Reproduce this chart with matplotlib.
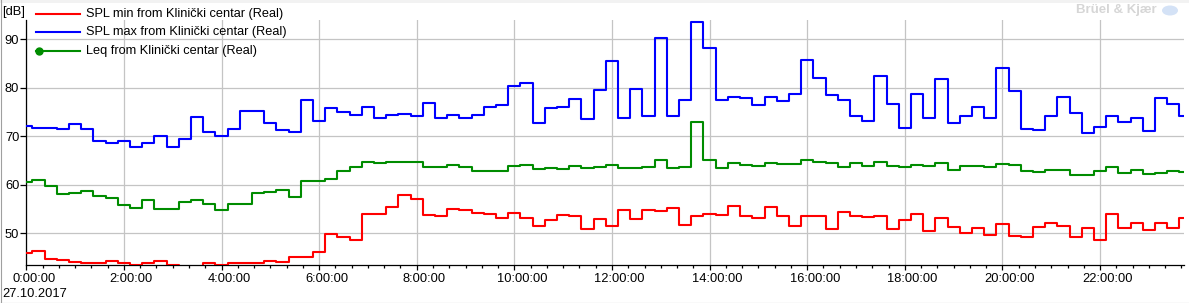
import matplotlib
matplotlib.use("Agg")
import matplotlib.pyplot as plt
import matplotlib.transforms as mtransforms
from matplotlib.lines import Line2D
from matplotlib.patches import Rectangle, Ellipse
from matplotlib.ticker import MultipleLocator, FuncFormatter, FixedLocator
import numpy as np

W, H = 1189, 303
plt.rcParams["font.family"] = ["Liberation Sans", "DejaVu Sans"]

# --- data: 15-minute values, 27.10.2017 ---
hours = np.arange(96) * 0.25

spl_min = [
    45.9, 46.3, 44.6, 44.5, 44.1, 43.8, 43.8, 44.2, 43.8, 43.5, 43.8, 44.2,
    43.5, 43.0, 43.0, 43.8, 43.5, 43.8, 43.8, 43.8, 44.3, 44.0, 45.0, 45.0,
    46.1, 49.9, 49.2, 48.6, 53.9, 53.9, 55.4, 57.9, 57.1, 53.8, 53.5, 55.0,
    54.8, 54.2, 54.0, 53.1, 54.2, 53.1, 51.5, 52.7, 53.8, 53.5, 50.8, 52.9,
    51.5, 54.8, 52.9, 54.8, 54.6, 55.2, 51.7, 53.5, 54.0, 53.8, 55.6, 53.5,
    53.1, 55.4, 53.5, 51.5, 53.5, 53.5, 50.8, 54.4, 53.5, 53.3, 53.5, 50.8,
    52.7, 54.0, 50.4, 53.1, 51.3, 50.0, 51.0, 49.6, 51.9, 49.4, 49.2, 51.3,
    52.1, 51.5, 49.2, 51.0, 48.6, 54.0, 51.0, 52.1, 50.6, 52.1, 51.0, 53.1,
]

spl_max = [
    72.2, 71.8, 71.8, 71.5, 72.6, 71.5, 69.1, 68.7, 69.1, 67.8, 68.7, 70.0,
    67.8, 69.5, 74.0, 70.8, 70.1, 71.5, 75.3, 75.3, 72.8, 71.3, 70.9, 77.5,
    73.2, 75.9, 75.1, 74.5, 76.1, 73.8, 74.5, 74.7, 74.2, 76.9, 73.8, 74.5,
    73.8, 74.5, 76.1, 76.5, 80.4, 81.1, 72.8, 75.9, 76.1, 77.7, 73.5, 79.5,
    85.6, 73.7, 79.8, 74.1, 90.2, 74.1, 77.5, 93.5, 88.3, 77.4, 78.2, 77.9,
    76.5, 78.2, 77.3, 78.8, 85.8, 82.1, 78.6, 77.5, 74.1, 73.2, 82.5, 76.7,
    71.8, 78.8, 73.8, 81.9, 72.8, 74.1, 76.1, 73.8, 84.0, 79.4, 71.6, 71.4,
    74.2, 78.2, 74.9, 70.6, 72.0, 74.2, 73.0, 73.8, 71.1, 77.9, 76.7, 74.2,
]

leq = [
    60.6, 60.9, 59.7, 58.1, 58.3, 58.7, 57.7, 57.2, 55.8, 55.3, 56.8, 55.0,
    55.0, 56.4, 56.8, 56.0, 54.8, 56.0, 56.0, 58.3, 58.5, 58.9, 57.4, 60.8,
    60.8, 61.2, 62.8, 63.7, 64.7, 64.5, 64.8, 64.7, 64.7, 63.6, 63.6, 64.1,
    63.6, 62.8, 62.8, 62.8, 63.9, 64.1, 63.2, 63.4, 63.2, 63.9, 63.4, 63.6,
    64.1, 63.4, 63.4, 63.6, 65.1, 63.4, 63.6, 73.0, 65.1, 63.4, 64.5, 64.1,
    63.9, 64.5, 64.3, 64.3, 65.1, 64.7, 64.5, 63.6, 64.5, 63.9, 64.7, 63.9,
    63.6, 64.1, 63.9, 64.5, 63.0, 63.9, 63.9, 63.6, 64.3, 64.1, 62.8, 62.6,
    63.0, 63.0, 62.0, 62.0, 62.8, 63.6, 62.4, 63.0, 62.2, 62.4, 62.8, 62.6,
]

series_labels = [
    "SPL min from Klinički centar (Real)",
    "SPL max from Klinički centar (Real)",
    "Leq from Klinički centar (Real)",
]
series_colors = ["#ff0000", "#0000ff", "#008c00"]
y_ticks = [50, 60, 70, 80, 90]
date_label = "27.10.2017"
unit_label = "[dB]"


def fx(px):
    return px / W


def fy(py):
    return 1 - py / H


fig = plt.figure(figsize=(W / 100, H / 100), dpi=100)
fig.patch.set_facecolor("white")

# frame bits of the window
fig.add_artist(Rectangle((0, fy(3)), 1, 3 / H, transform=fig.transFigure,
                         facecolor="#f2f2f2", edgecolor="none"))
fig.add_artist(Line2D([fx(0.5), fx(0.5)], [0, 1], transform=fig.transFigure,
                      color="#a0a0a0", lw=0.8))
fig.add_artist(Line2D([0, 1], [fy(302.5), fy(302.5)], transform=fig.transFigure,
                      color="#a0a0a0", lw=0.8))

ax = fig.add_axes([fx(26.3), fy(265), fx(1184 - 26.3), (265 - 20) / H])
ax.set_facecolor("white")

for vals, col in zip([spl_min, spl_max, leq], series_colors):
    ax.step(hours, vals, where="mid", color=col, lw=1.5, zorder=3)

ax.set_xlim(0, 23.72)
ax.set_ylim(43.45, 94.0)

ax.xaxis.set_major_locator(MultipleLocator(2))
ax.xaxis.set_minor_locator(MultipleLocator(1 / 3))
ax.xaxis.set_major_formatter(FuncFormatter(lambda v, p: f"{int(round(v))}:00:00"))
ax.yaxis.set_major_locator(FixedLocator(y_ticks))

ax.grid(True, which="major", color="#c4c4c4", lw=0.9)
ax.set_axisbelow(True)

for s in ["top", "right"]:
    ax.spines[s].set_visible(False)
for s in ["left", "bottom"]:
    ax.spines[s].set_linewidth(0.9)

ax.tick_params(axis="x", which="major", length=3.4, width=0.9, pad=2.6,
               labelsize=9.3, colors="black")
ax.tick_params(axis="x", which="minor", length=1.8, width=0.9)
ax.tick_params(axis="y", which="major", length=4.2, width=0.9, pad=0.8,
               labelsize=9.3, colors="black")

# shift x tick labels a bit to the right like the original
shift = mtransforms.ScaledTranslation(7.5 / 100, 0, fig.dpi_scale_trans)
for lab in ax.get_xticklabels():
    lab.set_transform(lab.get_transform() + shift)

# unit label and date
fig.text(fx(2), fy(12.5), unit_label, fontsize=9.3, va="center", ha="left")
fig.text(fx(2), fy(294), date_label, fontsize=9.3, va="center", ha="left")

# legend drawn in the header area
rows = [14, 32.3, 50.7]
for i, (lab, col) in enumerate(zip(series_labels, series_colors)):
    y = fy(rows[i])
    fig.add_artist(Line2D([fx(36), fx(80)], [y, y], transform=fig.transFigure,
                          color=col, lw=1.5))
    if i == 2:
        fig.add_artist(Line2D([fx(39)], [y], transform=fig.transFigure,
                              color=col, marker="o", markersize=5, lw=0))
    fig.text(fx(86), y, lab, fontsize=9.2, va="center", ha="left")

# watermark
fig.text(fx(1157), fy(10.5), "Brüel & Kjær", fontsize=9.5, fontweight="bold",
         color="#d6d6d6", ha="right", va="center")
fig.add_artist(Ellipse((fx(1170), fy(10.5)), 16 / W, 10 / H,
                       transform=fig.transFigure, facecolor="#d4e2f6",
                       edgecolor="none"))

fig.savefig("out.png", dpi=100)
